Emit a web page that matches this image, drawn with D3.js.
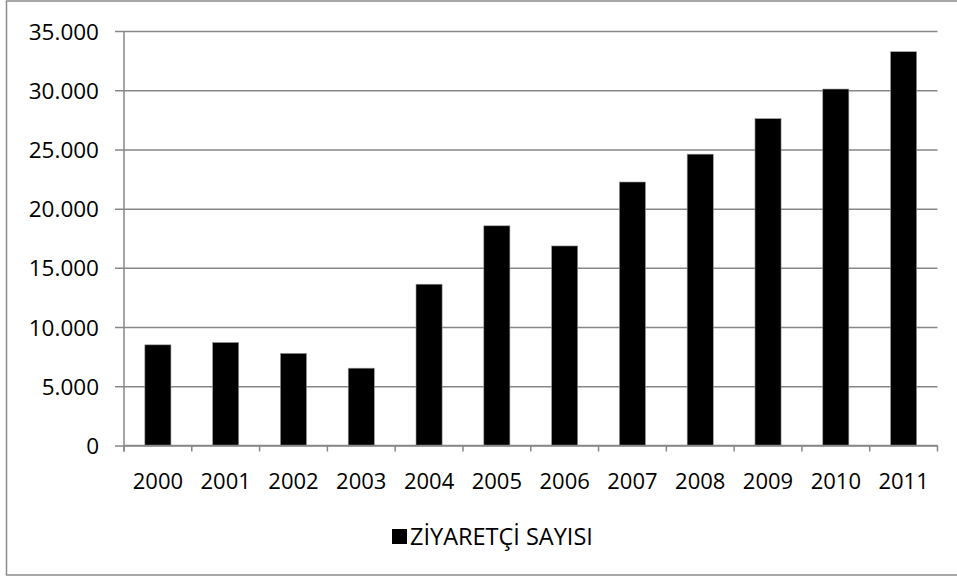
<!DOCTYPE html>
<html>
<head>
<meta charset="utf-8">
<script src="https://cdn.jsdelivr.net/npm/d3@7/dist/d3.min.js"></script>
<style>
  html, body { margin: 0; padding: 0; background: #fff; }
  svg { display: block; }
  text { font-family: "Open Sans", "DejaVu Sans", sans-serif; fill: #000; }
</style>
</head>
<body>
<svg id="chart" width="957" height="576"></svg>
<script>
// Yearly visitor counts
const years = ["2000", "2001", "2002", "2003", "2004", "2005", "2006", "2007", "2008", "2009", "2010", "2011"];
const visitors = [8500, 8700, 7780, 6530, 13620, 18550, 16850, 22250, 24600, 27600, 30100, 33250];
const yTicks = [0, 5000, 10000, 15000, 20000, 25000, 30000, 35000];
const seriesName = "ZİYARETÇİ SAYISI";

const svg = d3.select("#chart");
const plot = { left: 124, right: 937.5, top: 31, bottom: 445.5 };

// outer frame of the chart area
svg.append("rect")
  .attr("x", 6.5).attr("y", 1).attr("width", 957).attr("height", 574)
  .attr("fill", "#fff").attr("stroke", "#8c8c8c").attr("stroke-width", 1.5);

const x = d3.scaleBand().domain(years).range([plot.left, plot.right]).paddingInner(0.615).paddingOuter(0.3075);
const xTickScale = d3.scaleBand().domain(years).range([plot.left, plot.right]);
const y = d3.scaleLinear().domain([0, 35000]).range([plot.bottom, plot.top]);

const fmt = v => d3.format(",")(v).replace(/,/g, ".");

// horizontal gridlines with short outside ticks
const yAxis = d3.axisLeft(y).tickValues(yTicks).tickFormat(fmt)
  .tickSize(-(plot.right - plot.left)).tickPadding(25);
const gy = svg.append("g").attr("transform", `translate(${plot.left},0)`).call(yAxis);
gy.select(".domain").remove();
gy.selectAll(".tick line").attr("x1", -9).attr("stroke", "#878787").attr("stroke-width", 1.5);
gy.selectAll(".tick text").attr("font-size", 22.5).attr("dy", "0.36em");

// bars
svg.append("g").selectAll("rect").data(years).join("rect")
  .attr("x", d => x(d))
  .attr("y", (d, i) => y(visitors[i]))
  .attr("width", x.bandwidth())
  .attr("height", (d, i) => y(0) - y(visitors[i]))
  .attr("fill", "#000")
  .attr("stroke", "#9a9a9a").attr("stroke-width", 0.6);

// category axis with ticks at band boundaries
const gx = svg.append("g").attr("transform", `translate(0,${plot.bottom})`);
gx.append("line").attr("x1", plot.left).attr("x2", plot.right)
  .attr("stroke", "#878787").attr("stroke-width", 1.5);
const bounds = years.map(d => xTickScale(d)).concat([plot.right]);
gx.selectAll("line.tk").data(bounds).join("line").attr("class", "tk")
  .attr("x1", d => d).attr("x2", d => d).attr("y1", 0).attr("y2", 6)
  .attr("stroke", "#878787").attr("stroke-width", 1.5);
// left vertical axis line
svg.append("line").attr("x1", plot.left).attr("x2", plot.left)
  .attr("y1", plot.top).attr("y2", plot.bottom + 6)
  .attr("stroke", "#878787").attr("stroke-width", 1.5);

gx.selectAll("text").data(years).join("text")
  .attr("x", d => xTickScale(d) + xTickScale.bandwidth() / 2)
  .attr("y", 43)
  .attr("text-anchor", "middle")
  .attr("font-size", 22)
  .text(d => d);

// legend
const leg = svg.append("g").attr("transform", "translate(392,529)");
leg.append("rect").attr("width", 15).attr("height", 15).attr("fill", "#000");
leg.append("text").attr("x", 18).attr("y", 15.5).attr("font-size", 23.5).text(seriesName);
</script>
</body>
</html>
